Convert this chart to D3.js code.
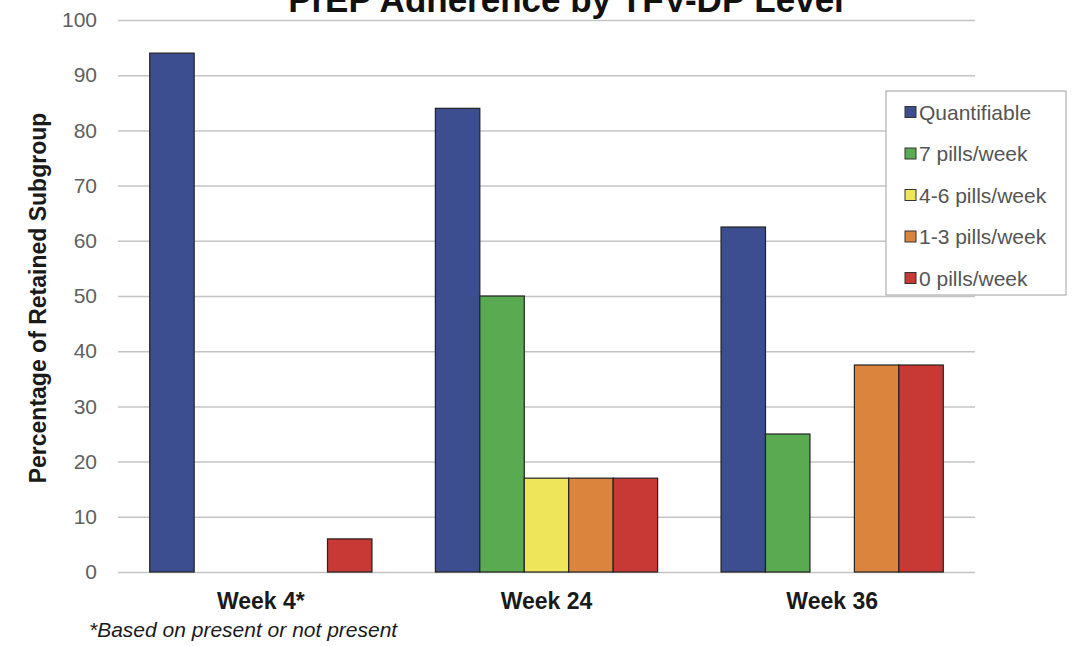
<!DOCTYPE html>
<html>
<head>
<meta charset="utf-8">
<script src="https://cdn.jsdelivr.net/npm/d3@7"></script>
<style>
  html, body { margin: 0; padding: 0; background: #fff; }
  svg { display: block; font-family: "Liberation Sans", Arial, Helvetica, sans-serif; }
</style>
</head>
<body>
<svg id="chart" width="1084" height="646"></svg>
<script>
// Visit time points
const categories = ["Week 4*", "Week 24", "Week 36"];
// Adherence subgroups (legend order)
const seriesNames = ["Quantifiable", "7 pills/week", "4-6 pills/week", "1-3 pills/week", "0 pills/week"];
// Percentage of retained subgroup, one array per time point, in series order
const week4Values = [94, 0, 0, 0, 6];
const week24Values = [84, 50, 17, 17, 17];
const week36Values = [62.5, 25, 0, 37.5, 37.5];
const seriesColors = ["#3c4e8f", "#5aaa52", "#eee55a", "#db843e", "#c83834"];
const yTicks = [0, 10, 20, 30, 40, 50, 60, 70, 80, 90, 100];

const valuesByCategory = [week4Values, week24Values, week36Values];
const rows = categories.map((c, i) => ({
  category: c,
  bars: seriesNames.map((s, j) => ({ series: s, value: valuesByCategory[i][j] }))
}));

const svg = d3.select("#chart");
const plot = { left: 118, right: 975, top: 20, bottom: 572 };

const x0 = d3.scaleBand()
  .domain(categories)
  .range([plot.left, plot.right])
  .paddingInner(0.222)
  .paddingOuter(0.111);

const x1 = d3.scaleBand()
  .domain(seriesNames)
  .range([0, x0.bandwidth()]);

const y = d3.scaleLinear().domain([0, 100]).range([plot.bottom, plot.top]);

const color = d3.scaleOrdinal().domain(seriesNames).range(seriesColors);

// Horizontal gridlines with value labels
const yAxis = d3.axisLeft(y)
  .tickValues(yTicks)
  .tickSize(-(plot.right - plot.left))
  .tickPadding(21)
  .tickFormat(d3.format("d"));

const gy = svg.append("g")
  .attr("transform", `translate(${plot.left},0)`)
  .call(yAxis);
gy.select(".domain").remove();
gy.selectAll(".tick line").attr("stroke", "#c4c4c4").attr("stroke-width", 1.5);
gy.selectAll(".tick text")
  .attr("fill", "#606060")
  .style("font-size", "21px")
  .style("font-family", "'Liberation Sans', Arial, sans-serif");

// Grouped bars
const groups = svg.append("g").selectAll("g")
  .data(rows)
  .join("g")
  .attr("transform", d => `translate(${x0(d.category)},0)`);

groups.selectAll("rect")
  .data(d => d.bars.filter(b => b.value > 0))
  .join("rect")
  .attr("x", d => x1(d.series))
  .attr("y", d => y(d.value))
  .attr("width", x1.bandwidth())
  .attr("height", d => y(0) - y(d.value))
  .attr("fill", d => color(d.series))
  .attr("stroke", "#222")
  .attr("stroke-width", 1.2);

// Category labels
const xAxis = d3.axisBottom(x0).tickSize(0).tickPadding(21);
const gx = svg.append("g")
  .attr("transform", `translate(0,${plot.bottom})`)
  .call(xAxis);
gx.select(".domain").remove();
gx.selectAll(".tick text")
  .attr("fill", "#1a1a1a")
  .style("font-size", "23px")
  .style("font-weight", "bold")
  .style("font-family", "'Liberation Sans', Arial, sans-serif");

// Title (runs off the top edge)
svg.append("text")
  .attr("x", 566)
  .attr("y", 12)
  .attr("text-anchor", "middle")
  .attr("fill", "#111")
  .style("font-size", "35px")
  .style("font-weight", "bold")
  .text("PrEP Adherence by TFV-DP Level");

// Y-axis title
svg.append("text")
  .attr("transform", `translate(46,${(plot.top + plot.bottom) / 2 + 2}) rotate(-90)`)
  .attr("text-anchor", "middle")
  .attr("fill", "#1a1a1a")
  .style("font-size", "23px")
  .style("font-weight", "bold")
  .text("Percentage of Retained Subgroup");

// Footnote
svg.append("text")
  .attr("x", 89)
  .attr("y", 637)
  .attr("fill", "#1a1a1a")
  .style("font-size", "21px")
  .style("font-style", "italic")
  .text("*Based on present or not present");

// Legend
const legend = svg.append("g").attr("transform", "translate(886,91)");
legend.append("rect")
  .attr("width", 180)
  .attr("height", 204)
  .attr("fill", "#fff")
  .attr("stroke", "#a0a0a0")
  .attr("stroke-width", 1);

const items = legend.selectAll("g.item")
  .data(seriesNames)
  .join("g")
  .attr("class", "item")
  .attr("transform", (d, i) => `translate(19,${21 + i * 41.5})`);

items.append("rect")
  .attr("x", 0)
  .attr("y", -5.5)
  .attr("width", 11)
  .attr("height", 11)
  .attr("fill", d => color(d))
  .attr("stroke", "#333")
  .attr("stroke-width", 1);

items.append("text")
  .attr("x", 14)
  .attr("y", 0)
  .attr("dy", "0.36em")
  .attr("fill", "#555")
  .style("font-size", "21px")
  .text(d => d);
</script>
</body>
</html>
